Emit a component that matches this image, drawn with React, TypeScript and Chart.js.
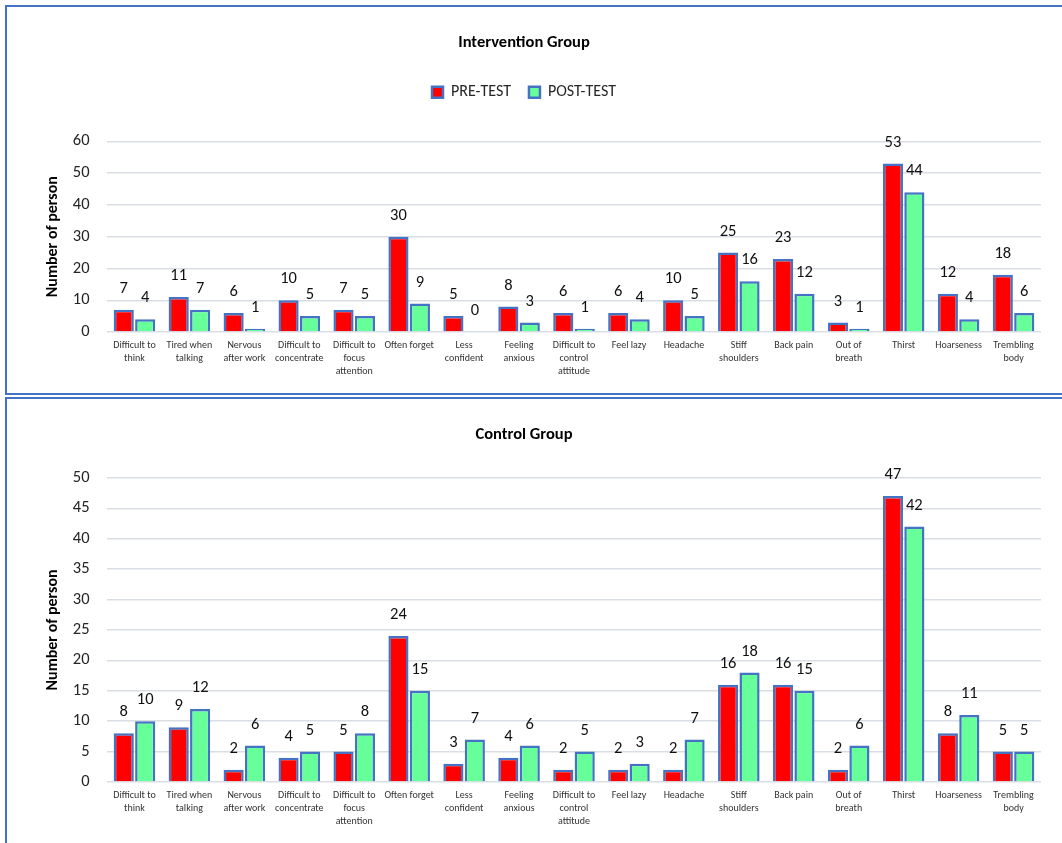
import React, { useEffect, useRef } from 'react';
import { Chart, registerables } from 'chart.js';

Chart.register(...registerables);

const FONT = 'Carlito, Lato, "Noto Sans", sans-serif';
Chart.defaults.font.family = FONT;

const categories: string[][] = [
  ['Difficult to', 'think'],
  ['Tired when', 'talking'],
  ['Nervous', 'after work'],
  ['Difficult to', 'concentrate'],
  ['Difficult to', 'focus', 'attention'],
  ['Often forget'],
  ['Less', 'confident'],
  ['Feeling', 'anxious'],
  ['Difficult to', 'control', 'attitude'],
  ['Feel lazy'],
  ['Headache'],
  ['Stiff', 'shoulders'],
  ['Back pain'],
  ['Out of', 'breath'],
  ['Thirst'],
  ['Hoarseness'],
  ['Trembling', 'body'],
];

const seriesNames = ['PRE-TEST', 'POST-TEST'];

const interventionPre = [7, 11, 6, 10, 7, 30, 5, 8, 6, 6, 10, 25, 23, 3, 53, 12, 18];
const interventionPost = [4, 7, 1, 5, 5, 9, 0, 3, 1, 4, 5, 16, 12, 1, 44, 4, 6];

const controlPre = [8, 9, 2, 4, 5, 24, 3, 4, 2, 2, 2, 16, 16, 2, 47, 8, 5];
const controlPost = [10, 12, 6, 5, 8, 15, 7, 6, 5, 3, 7, 18, 15, 6, 42, 11, 5];

const interventionYTicks = [0, 10, 20, 30, 40, 50, 60];
const controlYTicks = [0, 5, 10, 15, 20, 25, 30, 35, 40, 45, 50];

const BLUE = '#4472C4';
const RED = '#FF0000';
const GREEN = '#66FF99';

const valueLabels = {
  id: 'valueLabels',
  afterDatasetsDraw(chart: any) {
    const ctx = chart.ctx;
    ctx.save();
    ctx.font = `16.5px ${FONT}`;
    ctx.fillStyle = '#111111';
    ctx.textAlign = 'center';
    ctx.textBaseline = 'middle';
    chart.data.datasets.forEach((ds: any, i: number) => {
      const meta = chart.getDatasetMeta(i);
      meta.data.forEach((el: any, j: number) => {
        ctx.fillText(String(ds.data[j]), el.x, el.y - 21);
      });
    });
    ctx.restore();
  },
};

type Props = {
  title: string;
  pre: number[];
  post: number[];
  yTicks: number[];
  showLegend: boolean;
  width: number;
  height: number;
  titleBottom: number;
};

function BarChart({ title, pre, post, yTicks, showLegend, width, height, titleBottom }: Props) {
  const ref = useRef<HTMLCanvasElement | null>(null);
  useEffect(() => {
    if (!ref.current) return;
    const step = yTicks[1] - yTicks[0];
    const chart = new Chart(ref.current, {
      type: 'bar',
      data: {
        labels: categories,
        datasets: [
          {
            label: seriesNames[0],
            data: pre,
            backgroundColor: RED,
            borderColor: BLUE,
            borderWidth: 2.5,
            categoryPercentage: 0.78,
            barPercentage: 0.94,
          },
          {
            label: seriesNames[1],
            data: post,
            backgroundColor: GREEN,
            borderColor: BLUE,
            borderWidth: 2.5,
            categoryPercentage: 0.78,
            barPercentage: 0.94,
          },
        ],
      },
      options: {
        responsive: true,
        maintainAspectRatio: false,
        animation: false,
        layout: { padding: { left: 0, right: 21, top: 0, bottom: 0 } },
        plugins: {
          title: {
            display: true,
            text: title,
            color: '#000000',
            font: { size: 16.5, weight: 'bold', lineHeight: 1.2 },
            padding: { top: 26, bottom: titleBottom },
            weight: 2000,
          },
          legend: {
            display: showLegend,
            position: 'top',
            weight: 1000,
            labels: {
              boxWidth: 11,
              boxHeight: 11,
              padding: 18,
              color: '#262626',
              font: { size: 16 },
            },
          },
          subtitle: {
            display: showLegend,
            text: ' ',
            font: { size: 10, lineHeight: 1 },
            padding: { top: 21, bottom: 0 },
            weight: 500,
          },
          tooltip: { enabled: false },
        },
        scales: {
          x: {
            grid: { display: false, drawTicks: false },
            border: { display: false },
            ticks: {
              autoSkip: false,
              maxRotation: 0,
              minRotation: 0,
              padding: 7,
              color: '#333333',
              font: { size: 10, lineHeight: 1.3 },
            },
            afterFit: (scale: any) => {
              scale.height = 61;
            },
          },
          y: {
            min: yTicks[0],
            max: yTicks[yTicks.length - 1],
            grid: { color: '#D9DEE5', lineWidth: 1.4, drawTicks: false },
            border: { display: false },
            ticks: {
              stepSize: step,
              padding: 17.5,
              color: '#262626',
              font: { size: 16.5 },
            },
            title: {
              display: true,
              text: 'Number of person',
              color: '#000000',
              font: { size: 16, weight: 'bold', lineHeight: 1.2 },
              padding: { top: 36, bottom: 0 },
            },
            afterFit: (scale: any) => {
              scale.width = 100;
            },
          },
        },
      },
      plugins: [valueLabels],
    } as any);
    return () => chart.destroy();
  }, [title, pre, post, yTicks, showLegend, titleBottom]);

  return (
    <div style={{ position: 'relative', width, height }}>
      <canvas ref={ref} />
    </div>
  );
}

export default function App() {
  const panelBase: React.CSSProperties = {
    position: 'absolute',
    left: 5,
    width: 1100,
    borderTop: `2px solid ${BLUE}`,
    borderLeft: `2px solid ${BLUE}`,
    borderBottom: `2px solid ${BLUE}`,
    borderRight: 'none',
    background: '#ffffff',
  };
  return (
    <div
      style={{
        position: 'absolute',
        left: 0,
        top: 0,
        width: 1062,
        height: 843,
        overflow: 'hidden',
        background: '#ffffff',
      }}
    >
      <div style={{ ...panelBase, top: 5, height: 386 }}>
        <BarChart
          title="Intervention Group"
          pre={interventionPre}
          post={interventionPost}
          yTicks={interventionYTicks}
          showLegend={true}
          width={1055}
          height={386}
          titleBottom={13.5}
        />
      </div>
      <div style={{ ...panelBase, top: 397, height: 460 }}>
        <BarChart
          title="Control Group"
          pre={controlPre}
          post={controlPost}
          yTicks={controlYTicks}
          showLegend={false}
          width={1055}
          height={444}
          titleBottom={33}
        />
      </div>
    </div>
  );
}
